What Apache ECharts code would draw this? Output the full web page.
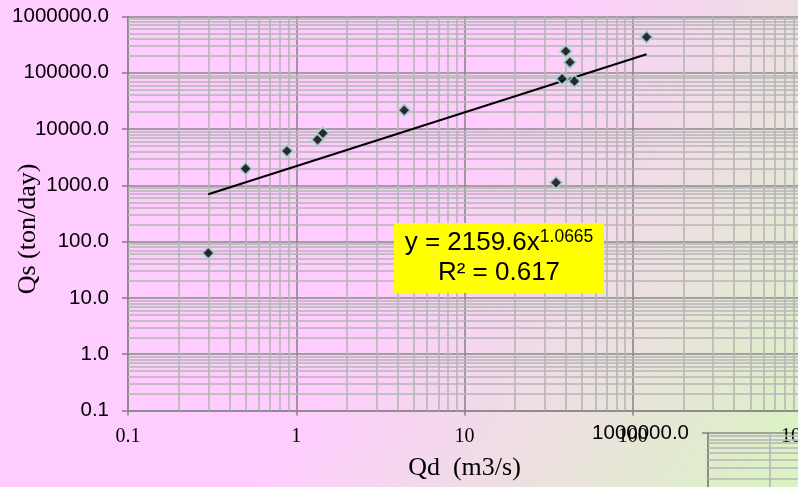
<!DOCTYPE html>
<html>
<head>
<meta charset="utf-8">
<script src="https://cdn.jsdelivr.net/npm/echarts@6/dist/echarts.min.js"></script>
<style>
  html, body { margin: 0; padding: 0; background: #fff; }
  #chart { width: 798px; height: 487px; }
</style>
</head>
<body>
<div id="chart"></div>
<script>
// 观测数据 Qd (m3/s) / Qs (ton/day)
const qd = [0.3, 0.5, 0.88, 1.34, 1.44, 4.38, 35.0, 38.0, 40.0, 42.3, 45.0, 120.8]
const qs = [63, 1980, 4080, 6490, 8420, 21600, 1120, 78500, 241000, 153600, 70600, 432000]

// 趋势线两端点
const trendQd = [0.3, 120.8]
const trendQs = [695, 213000]

// 对数网格的细分线
const minorSteps = [2, 3, 4, 5, 6, 7, 8, 9]
const xDecades = [0.1, 1, 10, 100]
const yDecades = [0.1, 1, 10, 100, 1000, 10000, 100000]

const serif = '"Times New Roman", "Liberation Serif", serif'
const sans = 'Arial, "Liberation Sans", sans-serif'

const minorX = xDecades.flatMap(d => minorSteps.map(m => d * m))
const minorY = yDecades.flatMap(d => minorSteps.map(m => d * m))

function minorLines(xi) {
  return {
    type: 'scatter',
    xAxisIndex: xi,
    yAxisIndex: xi,
    data: [],
    z: 1,
    silent: true,
    markLine: {
      z: 1,
      silent: true,
      symbol: 'none',
      animation: false,
      label: { show: false },
      lineStyle: { color: '#b6b6b6', width: 1.6, type: 'solid' },
      data: minorX.map(v => ({ xAxis: v })).concat(minorY.map(v => ({ yAxis: v })))
    }
  }
}

function xAxisOf(gi, min, max, showName) {
  return {
    type: 'log',
    gridIndex: gi,
    logBase: 10,
    min: min,
    max: max,
    splitNumber: 4,
    name: showName ? 'Qd  (m3/s)' : '',
    nameLocation: 'middle',
    nameGap: 45,
    nameTextStyle: { fontFamily: serif, fontSize: 26, color: '#000' },
    axisLine: { show: true, lineStyle: { color: '#888', width: 1.6 } },
    axisTick: { show: true, length: 5, lineStyle: { color: '#888', width: 1.6 } },
    axisLabel: {
      show: showName,
      margin: 16,
      fontFamily: serif,
      fontSize: 20,
      color: '#000',
      showMinLabel: true,
      showMaxLabel: true,
      formatter: v => (v < 1 ? v.toFixed(1) : v.toFixed(0))
    },
    splitLine: { show: true, lineStyle: { color: '#8a8a8a', width: 1.6 } }
  }
}

function yAxisOf(gi) {
  return {
    type: 'log',
    gridIndex: gi,
    logBase: 10,
    min: 0.1,
    max: 1000000,
    splitNumber: 7,
    axisLine: { show: true, lineStyle: { color: '#888', width: 1.6 } },
    axisTick: { show: true, length: 6, lineStyle: { color: '#888', width: 1.6 } },
    axisLabel: {
      margin: 19,
      fontFamily: sans,
      fontSize: 20.5,
      color: '#000',
      showMinLabel: true,
      showMaxLabel: true,
      formatter: v => v.toFixed(1)
    },
    splitLine: { show: true, lineStyle: { color: '#8a8a8a', width: 1.6 } }
  }
}

const chart = echarts.init(document.getElementById('chart'))
chart.setOption({
  animation: false,
  backgroundColor: {
    type: 'linear', x: 0, y: 0, x2: 1, y2: 1,
    colorStops: [
      { offset: 0, color: '#ffccff' },
      { offset: 0.5, color: '#ffccff' },
      { offset: 1, color: '#d9f4c0' }
    ]
  },
  grid: [
    { left: 128, top: 16.5, width: 673, height: 394, outerBoundsMode: 'none', containLabel: false },
    // 右下角被叠住的另一张图
    { left: 708, top: 433, width: 816, height: 462, outerBoundsMode: 'none', containLabel: false }
  ],
  xAxis: [xAxisOf(0, 0.1, 1000, true), xAxisOf(1, 0.1, 1000, false)],
  yAxis: [yAxisOf(0), yAxisOf(1)],
  series: [
    minorLines(0),
    minorLines(1),
    {
      type: 'line',
      xAxisIndex: 0,
      yAxisIndex: 0,
      data: trendQd.map((x, i) => [x, trendQs[i]]),
      showSymbol: false,
      symbol: 'none',
      z: 6,
      lineStyle: { color: '#000', width: 2 }
    },
    {
      type: 'scatter',
      xAxisIndex: 0,
      yAxisIndex: 0,
      data: qd.map((x, i) => [x, qs[i]]),
      symbol: 'diamond',
      symbolSize: 12,
      z: 7,
      itemStyle: { color: '#000', borderColor: '#a8dcdc', borderWidth: 2 }
    }
  ],
  graphic: [
    {
      // Y 轴标题
      type: 'text',
      z: 10,
      x: 28,
      y: 229,
      rotation: Math.PI / 2,
      style: {
        text: 'Qs (ton/day)',
        align: 'center',
        verticalAlign: 'middle',
        fontFamily: serif,
        fontSize: 26,
        fill: '#000'
      }
    },
    {
      type: 'rect',
      z: 10,
      shape: { x: 394, y: 223, width: 210, height: 70 },
      style: { fill: '#ffff00' }
    },
    {
      type: 'text',
      z: 11,
      x: 499,
      y: 258,
      style: {
        text: '{m|y = 2159.6x}{s|1.0665}\n{m|R² = 0.617}',
        align: 'center',
        verticalAlign: 'middle',
        rich: {
          m: { fontFamily: sans, fontSize: 26, lineHeight: 30, fill: '#000' },
          s: { fontFamily: sans, fontSize: 17.5, lineHeight: 18, verticalAlign: 'top', fill: '#000' }
        }
      }
    }
  ]
})
</script>
</body>
</html>
